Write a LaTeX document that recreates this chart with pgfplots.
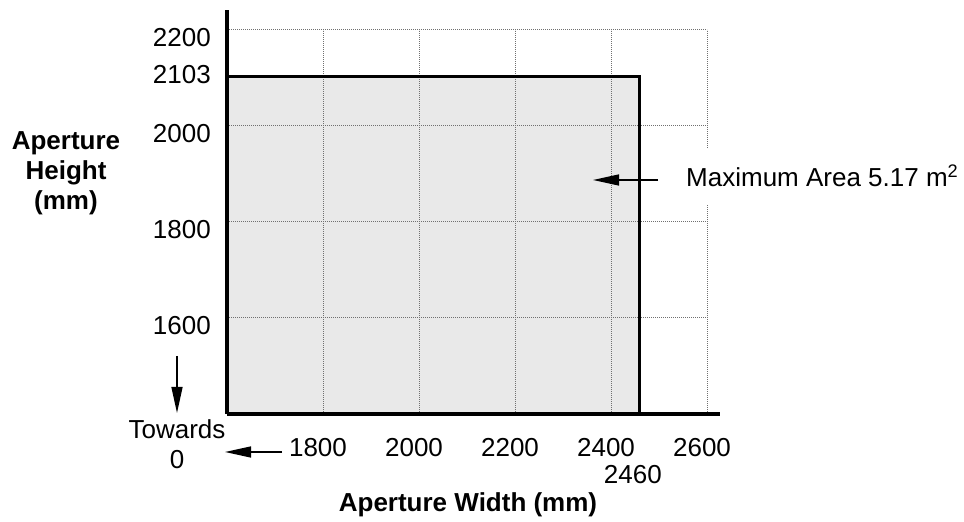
\documentclass[border=0pt]{standalone}
\usepackage{fontspec}
\setmainfont{Liberation Sans}
\usepackage{pgfplots}
\pgfplotsset{compat=1.18}
\usetikzlibrary{arrows.meta}

\definecolor{areafill}{HTML}{E9E9E9}
\definecolor{gridgray}{HTML}{707070}

\begin{document}
\begin{tikzpicture}[x=1bp, y=1bp, font=\fontsize{26bp}{30bp}\selectfont,
    pointer/.style={line width=1.4bp, -{Triangle[length=26bp, width=11bp]}},
    gridline/.style={gridgray, line width=1bp, dash pattern=on 1bp off 1bp}]

  % canvas: 964 x 522 (1px = 1bp)
  \path (0,0) rectangle (964,522);

  \begin{axis}[
      at={(227bp,108bp)}, anchor=south west,
      scale only axis, width=492.96bp, height=404.16bp,
      xmin=1600, xmax=2627, ymin=1400, ymax=2242,
      axis x line=bottom, axis y line=left,
      axis line style={-, line width=4bp},
      axis on top, clip=false,
      major tick length=0pt,
      xtick={1800,2000,2200,2400,2600},
      xticklabels={1800,2000,2200,2400,2600},
      ytick={1600,1800,2000,2200},
      yticklabels={1600,1800,2000,2200},
      extra x ticks={2460}, extra x tick labels={2460},
      extra y ticks={2103}, extra y tick labels={2103},
      tick label style={font=\fontsize{26bp}{30bp}\selectfont},
      xticklabel style={anchor=north, inner sep=0pt, yshift=-24bp, xshift=-5bp},
      yticklabel style={anchor=east, inner sep=0pt, xshift=-16bp, yshift=-8bp},
      extra x tick style={xticklabel style={yshift=-27bp, xshift=-2bp}},
      extra y tick style={yticklabel style={yshift=10bp}},
    ]

    % maximum aperture area
    \addplot[fill=areafill, draw=none]
      coordinates {(1600,1400) (1600,2103) (2460,2103) (2460,1400)} -- cycle;

    % grid (stops at 2600 / 2200)
    \pgfplotsinvokeforeach{1600,1800,2000,2200}{
      \draw[gridline] (axis cs:1600,#1) -- (axis cs:2600,#1);
    }
    \pgfplotsinvokeforeach{1800,2000,2200,2400,2600}{
      \draw[gridline] (axis cs:#1,1400) -- (axis cs:#1,2200);
    }

    \addplot[black, line width=3bp]
      coordinates {(1600,2103) (2460,2103) (2460,1400)};
  \end{axis}

  % annotation
  \draw[pointer] (658,342) -- (593,342);
  \node[anchor=base west, fill=white, inner xsep=2bp, inner ysep=17bp]
    at (684,335) {Maximum Area 5.17 m\textsuperscript{2}};

  % towards zero
  \draw[pointer] (177,166) -- (177,109);
  \draw[pointer] (282,70) -- (225,70);
  \node[anchor=base] at (177,83) {Towards};
  \node[anchor=base] at (177,53) {0};

  % axis titles
  \node[anchor=base, font=\fontsize{26bp}{30bp}\selectfont\bfseries] at (66,372) {Aperture};
  \node[anchor=base, font=\fontsize{26bp}{30bp}\selectfont\bfseries] at (66,342) {Height};
  \node[anchor=base, font=\fontsize{26bp}{30bp}\selectfont\bfseries] at (66,312) {(mm)};
  \node[anchor=base, font=\fontsize{26bp}{30bp}\selectfont\bfseries] at (468,10) {Aperture Width (mm)};
\end{tikzpicture}
\end{document}
